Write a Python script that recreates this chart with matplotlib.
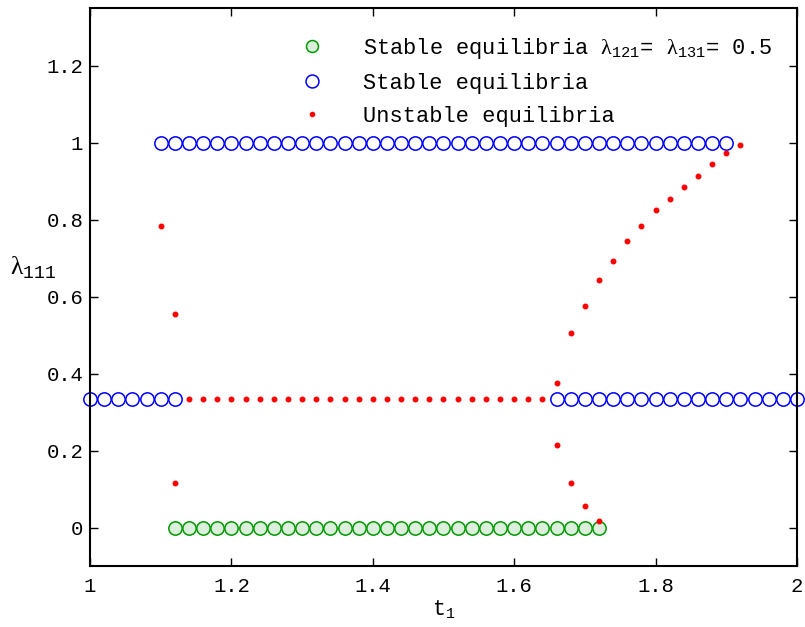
import numpy as np
import matplotlib
matplotlib.use("Agg")
import matplotlib.pyplot as plt
from matplotlib.lines import Line2D

# ---- data ----
t_grid = np.round(np.arange(1.0, 2.0001, 0.02), 2)

# stable branches (x ranges on the t1 grid, constant lambda_111 value)
stable_top_range = (1.10, 1.90)
stable_top_val = 1.0
stable_mid_left_range = (1.00, 1.12)
stable_mid_right_range = (1.66, 2.00)
stable_mid_val = 0.3333
green_range = (1.12, 1.72)
green_val = 0.0

# unstable equilibria
unst_mid_range = (1.14, 1.64)
unst_mid_val = 0.3333
unst_t = [1.10, 1.12, 1.12, 1.66, 1.66, 1.68, 1.68, 1.70, 1.70, 1.72, 1.72,
          1.74, 1.76, 1.78, 1.80, 1.82, 1.84, 1.86, 1.88, 1.90, 1.92]
unst_l = [0.785, 0.554, 0.117, 0.375, 0.215, 0.505, 0.115, 0.575, 0.055, 0.644, 0.016,
          0.694, 0.745, 0.785, 0.825, 0.855, 0.884, 0.915, 0.945, 0.974, 0.994]

xticks = [1, 1.2, 1.4, 1.6, 1.8, 2]
xtick_labels = ["1", "1.2", "1.4", "1.6", "1.8", "2"]
yticks = [0, 0.2, 0.4, 0.6, 0.8, 1, 1.2]
ytick_labels = ["0", "0.2", "0.4", "0.6", "0.8", "1", "1.2"]


def seg(r):
    return t_grid[(t_grid >= r[0] - 1e-9) & (t_grid <= r[1] + 1e-9)]


mono = "Liberation Mono"
plt.rcParams['mathtext.fontset'] = 'custom'
plt.rcParams['mathtext.rm'] = mono
plt.rcParams['mathtext.sf'] = 'Liberation Serif'

fig = plt.figure(figsize=(8.05, 6.27), dpi=100)
ax = fig.add_axes([0.1118, 0.0973, 0.8782, 0.8897])

blue = "#0000ff"
green_edge = "#009900"
green_face = "#dcefdc"
red = "#ff0000"
ms_circ = 9.6

# green
tg = seg(green_range)
ax.plot(tg, np.full(tg.size, green_val), 'o', ms=ms_circ, mfc=green_face, mec=green_edge, mew=1.1, ls='none')
# blue
for r, v in [(stable_top_range, stable_top_val), (stable_mid_left_range, stable_mid_val),
             (stable_mid_right_range, stable_mid_val)]:
    tb = seg(r)
    ax.plot(tb, np.full(tb.size, v), 'o', ms=ms_circ, mfc='none', mec=blue, mew=1.1, ls='none', clip_on=False)
# red
tr = seg(unst_mid_range)
ax.plot(tr, np.full(tr.size, unst_mid_val), '.', ms=6.5, color=red, ls='none')
ax.plot(unst_t, unst_l, '.', ms=6.5, color=red, ls='none')

ax.set_xlim(1, 2)
ax.set_ylim(-0.1, 1.35)
ax.set_xticks(xticks)
ax.set_xticklabels(xtick_labels, family=mono, fontsize=14.8)
ax.set_yticks(yticks)
ax.set_yticklabels(ytick_labels, family=mono, fontsize=14.8)
ax.tick_params(direction='in', length=6, width=1, top=True, right=True)
ax.tick_params(axis='x', pad=8)
ax.tick_params(axis='y', pad=5)
for s in ax.spines.values():
    s.set_linewidth(1.5)

ax.set_xlabel(r"t$_{\mathregular{1}}$", family=mono, fontsize=15.5, labelpad=2)
ax.set_ylabel(r"$\mathsf{λ}_{\mathregular{111}}$", family=mono, fontsize=18.5, rotation=0)
ax.yaxis.set_label_coords(-0.08, 0.535)
ax.yaxis.label.set_va('center')
ax.yaxis.label.set_ha('center')

handles = [
    Line2D([], [], marker='o', ls='none', ms=8.6, mfc=green_face, mec=green_edge, mew=1.1),
    Line2D([], [], marker='o', ls='none', ms=9.3, mfc='none', mec=blue, mew=1.1),
    Line2D([], [], marker='.', ls='none', ms=6, color=red),
]
labels = [r"Stable equilibria $\mathsf{λ}_{\mathregular{121}}$= $\mathsf{λ}_{\mathregular{131}}$= 0.5",
          "Stable equilibria", "Unstable equilibria"]
leg = ax.legend(handles, labels, loc='upper right', bbox_to_anchor=(0.996, 0.99), frameon=False,
                prop={'family': mono, 'size': 15.8}, handletextpad=1.35, labelspacing=0.55,
                borderaxespad=0.6)

fig.savefig("out.png", dpi=100)
